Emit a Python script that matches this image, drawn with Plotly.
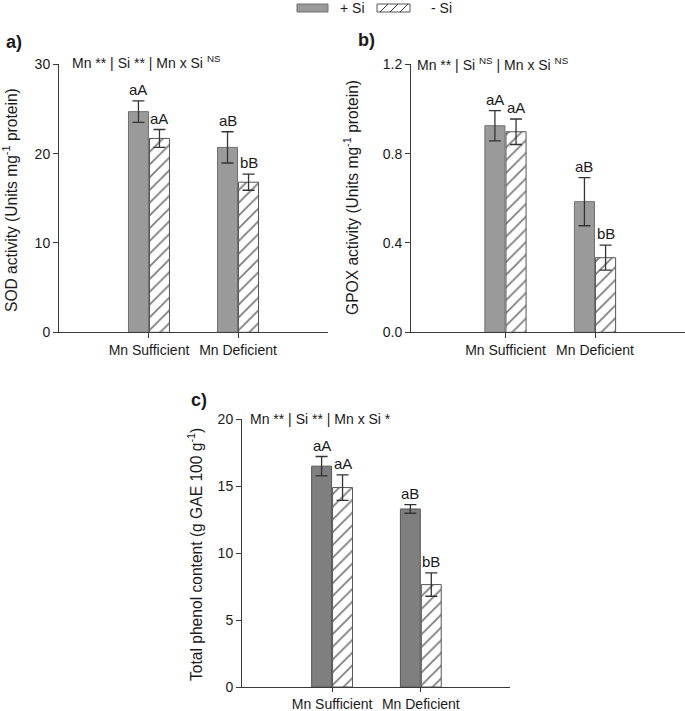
import plotly.graph_objects as go

# ---------------- data ----------------
categories = ["Mn Sufficient", "Mn Deficient"]

sod_plus = [24.7, 20.7]
sod_plus_err = [1.2, 1.75]
sod_minus = [21.7, 16.8]
sod_minus_err = [1.0, 0.9]
sod_plus_letters = ["aA", "aB"]
sod_minus_letters = ["aA", "bB"]

gpox_plus = [0.925, 0.585]
gpox_plus_err = [0.068, 0.108]
gpox_minus = [0.898, 0.334]
gpox_minus_err = [0.057, 0.056]
gpox_plus_letters = ["aA", "aB"]
gpox_minus_letters = ["aA", "bB"]

phenol_plus = [16.5, 13.3]
phenol_plus_err = [0.72, 0.32]
phenol_minus = [14.9, 7.65]
phenol_minus_err = [0.95, 0.87]
phenol_plus_letters = ["aA", "aB"]
phenol_minus_letters = ["aA", "bB"]

sod_ticks = [0, 10, 20, 30]
gpox_ticks = [0.0, 0.4, 0.8, 1.2]
phenol_ticks = [0, 5, 10, 15, 20]

series_names = ["+ Si", "- Si"]

# ---------------- style ----------------
W, H = 685, 711
FONT = "Liberation Sans, Arial, sans-serif"
TXT = "#1a1a1a"
AX = "#3a3a3a"
BARGAP = 0.528
GROUPGAP = 0.05
OFF = (1 - BARGAP) / 4  # center offset of each bar in a group
xpos = list(range(len(categories)))

def px(x):
    return x / W

def py(y):
    return 1 - y / H

fig = go.Figure()

panels = [
    dict(ax="", plus=sod_plus, pe=sod_plus_err, minus=sod_minus, me=sod_minus_err,
         pl=sod_plus_letters, ml=sod_minus_letters, fill="#9a9a9a", line="#707070",
         xdom=[px(59), px(328)], ydom=[py(332.3), py(64.3)], xr=[-1.01, 2.01],
         yr=[0, 30], ticks=sod_ticks, fmt="d", xtl=5),
    dict(ax="2", plus=gpox_plus, pe=gpox_plus_err, minus=gpox_minus, me=gpox_minus_err,
         pl=gpox_plus_letters, ml=gpox_minus_letters, fill="#9a9a9a", line="#707070",
         xdom=[px(411), px(685)], ydom=[py(332.3), py(64.3)], xr=[-1.055, 2.005],
         yr=[0, 1.2], ticks=gpox_ticks, fmt=".1f", xtl=5),
    dict(ax="3", plus=phenol_plus, pe=phenol_plus_err, minus=phenol_minus, me=phenol_minus_err,
         pl=phenol_plus_letters, ml=phenol_minus_letters, fill="#7f7f7f", line="#555555",
         xdom=[px(242), px(510)], ydom=[py(687), py(419.3)], xr=[-1.015, 2.005],
         yr=[0, 20], ticks=phenol_ticks, fmt="d", xtl=4),
]

annotations = []
for p in panels:
    xa = "x" + p["ax"]
    ya = "y" + p["ax"]
    fig.add_trace(go.Bar(
        x=xpos, y=p["plus"], name=series_names[0], xaxis=xa, yaxis=ya,
        marker=dict(color=p["fill"], line=dict(color=p["line"], width=1)),
        error_y=dict(type="data", array=p["pe"], color="#333333", thickness=1.3, width=6),
        showlegend=False,
    ))
    fig.add_trace(go.Bar(
        x=xpos, y=p["minus"], name=series_names[1], xaxis=xa, yaxis=ya,
        marker=dict(color="white", line=dict(color="#555555", width=1),
                    pattern=dict(shape="/", fgcolor="#000000", bgcolor="white",
                                 size=9, solidity=0.2)),
        error_y=dict(type="data", array=p["me"], color="#333333", thickness=1.3, width=6),
        showlegend=False,
    ))
    for i in xpos:
        annotations.append(dict(x=i - OFF, y=p["plus"][i] + p["pe"][i], xref=xa, yref=ya,
                                text=p["pl"][i], showarrow=False, yanchor="bottom", yshift=1,
                                font=dict(family=FONT, size=15, color=TXT)))
        annotations.append(dict(x=i + OFF, y=p["minus"][i] + p["me"][i], xref=xa, yref=ya,
                                text=p["ml"][i], showarrow=False, yanchor="bottom", yshift=1,
                                font=dict(family=FONT, size=15, color=TXT)))
    axis_common = dict(showline=True, linecolor=AX, linewidth=1, ticks="outside",
                       tickcolor=AX, showgrid=False, zeroline=False,
                       automargin=False,
                       tickfont=dict(family=FONT, size=14, color=TXT))
    fig.update_layout(**{
        "xaxis" + p["ax"]: dict(domain=p["xdom"], range=p["xr"], anchor=ya, ticklen=p["xtl"],
                                tickvals=xpos, ticktext=categories, **axis_common),
        "yaxis" + p["ax"]: dict(domain=p["ydom"], range=p["yr"], anchor=xa, ticklen=5,
                                tickvals=p["ticks"], tickformat=p["fmt"], **axis_common),
    })

# axis titles
titles = [
    ("SOD activity (Units mg<sup>-1</sup> protein)", 10, 200),
    ("GPOX activity (Units mg<sup>-1</sup> protein)", 351, 198),
    ("Total phenol content (g GAE 100 g<sup>-1</sup>)", 195, 555),
]
for t, x, y in titles:
    annotations.append(dict(x=px(x), y=py(y), xref="paper", yref="paper", text=t,
                            textangle=-90, showarrow=False, xanchor="center", yanchor="middle",
                            font=dict(family=FONT, size=15.6, color=TXT)))

# statistics text
stats = [
    ("Mn ** | Si ** | Mn x Si <sup>NS</sup>", 70, 62),
    ("Mn ** | Si <sup>NS</sup> | Mn x Si <sup>NS</sup>", 415, 64),
    ("Mn ** | Si ** | Mn x Si *", 248, 419),
]
for t, x, y in stats:
    annotations.append(dict(x=px(x), y=py(y), xref="paper", yref="paper", text=t,
                            showarrow=False, xanchor="left", yanchor="middle",
                            font=dict(family=FONT, size=14, color=TXT)))

# panel labels
for t, x, y in [("a)", 4, 42), ("b)", 356, 40), ("c)", 189, 400)]:
    annotations.append(dict(x=px(x), y=py(y), xref="paper", yref="paper", text="<b>" + t + "</b>",
                            showarrow=False, xanchor="left", yanchor="middle",
                            font=dict(family=FONT, size=18, color=TXT)))

# legend (drawn manually to match wide swatches)
shapes = []
shapes.append(dict(type="rect", xref="paper", yref="paper", x0=px(297), x1=px(328),
                   y0=py(12), y1=py(4), fillcolor="#9a9a9a", line=dict(color="#707070", width=1)))
shapes.append(dict(type="rect", xref="paper", yref="paper", x0=px(377), x1=px(410),
                   y0=py(12), y1=py(4), fillcolor="white", line=dict(color="#555555", width=1)))
for sx in [380, 390, 400]:
    shapes.append(dict(type="line", xref="paper", yref="paper", x0=px(sx), x1=px(sx + 8),
                       y0=py(12), y1=py(4), line=dict(color="#333333", width=1)))
annotations.append(dict(x=px(338), y=py(8), xref="paper", yref="paper", text=series_names[0],
                        showarrow=False, xanchor="left", yanchor="middle",
                        font=dict(family=FONT, size=14, color=TXT)))
annotations.append(dict(x=px(429), y=py(8), xref="paper", yref="paper", text=series_names[1],
                        showarrow=False, xanchor="left", yanchor="middle",
                        font=dict(family=FONT, size=14, color=TXT)))

fig.update_layout(
    width=W, height=H, margin=dict(l=0, r=0, t=0, b=0, pad=0, autoexpand=False),
    paper_bgcolor="white", plot_bgcolor="white",
    barmode="group", bargap=BARGAP, bargroupgap=GROUPGAP,
    showlegend=False, annotations=annotations, shapes=shapes,
    font=dict(family=FONT, size=14, color=TXT),
)

fig.write_html("out.html", config={"displayModeBar": False},
               post_script="document.body.style.margin='0';")
